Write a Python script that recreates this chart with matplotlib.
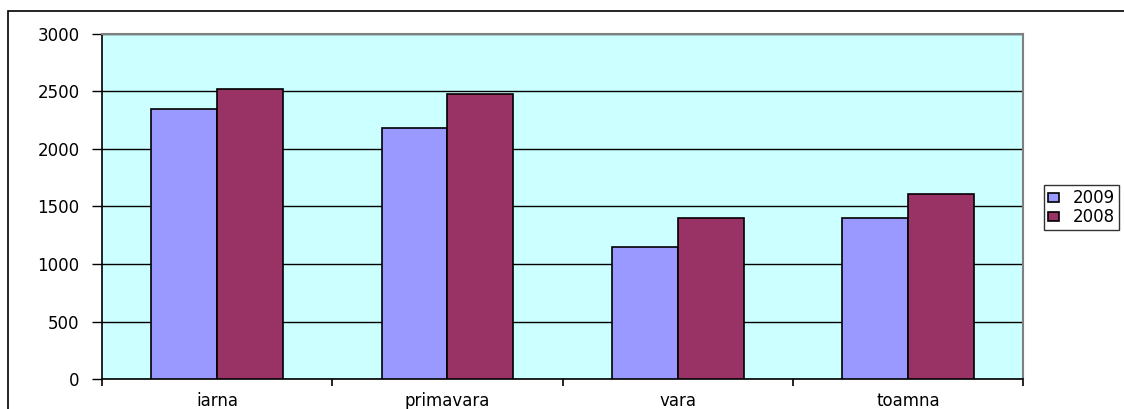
import numpy as np
import matplotlib.pyplot as plt
from matplotlib.patches import Rectangle

plt.rcParams['font.family'] = ['DejaVu Sans']

# data
seasons = ["iarna", "primavara", "vara", "toamna"]
values_2009 = [2350, 2180, 1145, 1400]
values_2008 = [2525, 2475, 1400, 1610]
series_labels = ["2009", "2008"]

fig = plt.figure(figsize=(11.24, 4.09), dpi=100)
ax = fig.add_axes([0.0907, 0.0733, 0.8195, 0.8437])

# outer chart border (runs past the image edge on right/bottom)
fig.patches.append(Rectangle((8 / 1124, -0.05), 1.2, 1 - 11 / 409 + 0.05,
                             transform=fig.transFigure, fill=False,
                             edgecolor="black", linewidth=1.2))

x = np.arange(len(seasons))
w = 0.286
ax.set_facecolor("#ccffff")
ax.bar(x - w / 2, values_2009, w, color="#9999ff", edgecolor="black",
       linewidth=1.2, label=series_labels[0], zorder=3)
ax.bar(x + w / 2, values_2008, w, color="#993366", edgecolor="black",
       linewidth=1.2, label=series_labels[1], zorder=3)

ax.set_xlim(-0.5, len(seasons) - 0.5)
ax.set_ylim(0, 3000)
ax.set_yticks(range(0, 3001, 500))
ax.yaxis.grid(True, color="black", linewidth=1.0, zorder=0)
ax.set_axisbelow(True)

ax.set_xticks(x)
ax.set_xticklabels(seasons, fontsize=12)
ax.set_xticks(np.arange(-0.5, len(seasons), 1), minor=True)
ax.tick_params(axis="x", which="major", length=0, pad=9)
ax.tick_params(axis="x", which="minor", length=5, width=1.2, direction="out")
ax.tick_params(axis="y", length=7, width=1.0, direction="out", labelsize=12, pad=9)

for side in ["top", "right"]:
    ax.spines[side].set_color("#808080")
    ax.spines[side].set_linewidth(1.5)
for side in ["left", "bottom"]:
    ax.spines[side].set_color("black")
    ax.spines[side].set_linewidth(1.2)

leg = ax.legend(loc="upper left", bbox_to_anchor=(1044 / 1124, 1 - 185 / 409),
                bbox_transform=fig.transFigure, fontsize=12, frameon=True,
                fancybox=False, edgecolor="black", handlelength=0.66,
                handleheight=0.45, handletextpad=0.8, borderpad=0.25,
                labelspacing=0.05, borderaxespad=0)
leg.get_frame().set_linewidth(1.0)

fig.savefig("out.png", dpi=100)
